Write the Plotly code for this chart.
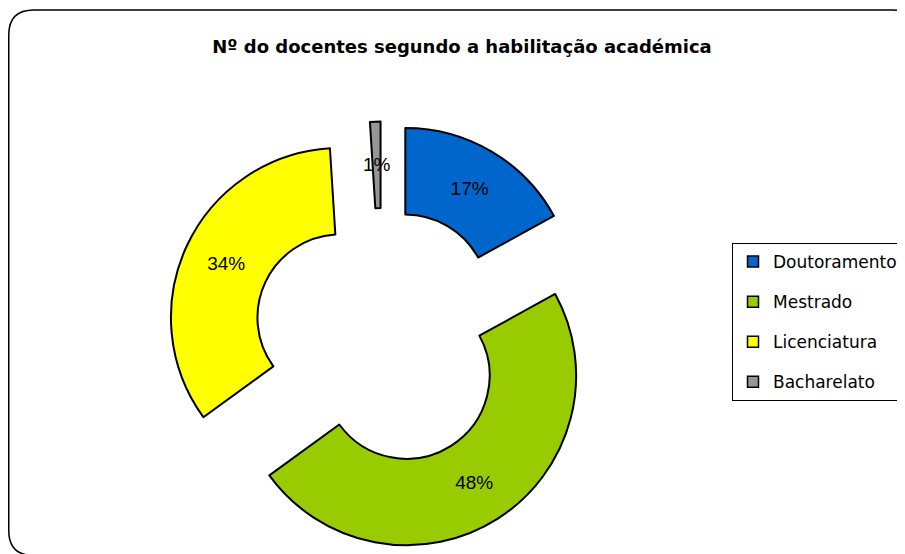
import math
import plotly.graph_objects as go

# Data
labels = ["Doutoramento", "Mestrado", "Licenciatura", "Bacharelato"]
values = [17, 48, 34, 1]
colors = ["#0066CC", "#99CC00", "#FFFF00", "#969696"]
title_text = "Nº do docentes segundo a habilitação académica"

# The page body has an 8px margin; figure covers page area (8,8)-(905,554)
OFF = 8
W, H = 905 - OFF, 554 - OFF


def px(x):
    return (x - OFF) / W


def py(y):
    return 1 - (y - OFF) / H


HOLE = 0.49
PULL = 0.27
cx_page, cy_page = 382, 337
half = 215.4
dom_x = [px(cx_page - half), px(cx_page + half)]
dom_y = [py(cy_page + half), py(cy_page - half)]

# Labels that fit inside the slices are drawn by the pie; the very thin slice
# gets its label placed at the mid-radius of its (pulled) ring segment.
total = sum(values)
thin = [v / total < 0.05 for v in values]
textpos = ["none" if t else "inside" for t in thin]

fig = go.Figure()

fig.add_trace(go.Pie(
    labels=labels,
    values=values,
    sort=False,
    direction="clockwise",
    rotation=0,
    hole=HOLE,
    pull=[PULL] * len(values),
    marker=dict(colors=colors, line=dict(color="#000000", width=2)),
    texttemplate="%{percent:.0%}",
    textposition=textpos,
    insidetextorientation="horizontal",
    textfont=dict(family="Liberation Sans", size=19, color="#000000"),
    showlegend=False,
    hoverinfo="label+percent",
    domain=dict(x=dom_x, y=dom_y),
))

# Annotation for thin slice(s), position computed from the values
r_px = min((dom_x[1] - dom_x[0]) * W, (dom_y[1] - dom_y[0]) * H) / 2 / (1 + PULL)
cx_f = (dom_x[0] + dom_x[1]) / 2 * W
cy_f = (1 - (dom_y[0] + dom_y[1]) / 2) * H
annotations = []
cum = 0
for v, t in zip(values, thin):
    mid = (cum + v / 2) / total * 2 * math.pi
    cum += v
    if t:
        rad = PULL * r_px + r_px * (1 + HOLE) / 2
        xf = cx_f + rad * math.sin(mid)
        yf = cy_f - rad * math.cos(mid)
        annotations.append(dict(
            x=xf / W, y=1 - yf / H, xref="paper", yref="paper",
            text=f"{round(v / total * 100)}%", showarrow=False,
            font=dict(family="Liberation Sans", size=19, color="#000000"),
            xanchor="center", yanchor="middle"))

# Legend entries (one group per category so spacing matches the reference)
for lab, col in zip(labels, colors):
    fig.add_trace(go.Scatter(
        x=[None], y=[None], mode="markers", name=lab, legendgroup=lab,
        marker=dict(symbol="square", size=11, color=col,
                    line=dict(color="#000000", width=1.5)),
        showlegend=True, hoverinfo="skip",
    ))

# Rounded chart-area border
x0, x1 = 0.75 / W, px(917)
yt, yb = py(10), py(555.5)
rx, ry = 25 / W, 25 / H
path = (f"M {x0+rx},{yt} L {x1-rx},{yt} Q {x1},{yt} {x1},{yt-ry} "
        f"L {x1},{yb+ry} Q {x1},{yb} {x1-rx},{yb} "
        f"L {x0+rx},{yb} Q {x0},{yb} {x0},{yb+ry} "
        f"L {x0},{yt-ry} Q {x0},{yt} {x0+rx},{yt} Z")

fig.update_layout(
    width=W, height=H,
    margin=dict(l=0, r=0, t=0, b=0),
    paper_bgcolor="#FFFFFF",
    plot_bgcolor="#FFFFFF",
    xaxis=dict(visible=False),
    yaxis=dict(visible=False),
    title=dict(text=title_text, x=px(462), xanchor="center", xref="paper",
               y=py(47), yanchor="middle", yref="paper",
               font=dict(family="DejaVu Sans", size=18, color="#000000", weight="bold")),
    legend=dict(x=px(732), xanchor="left", y=py(243), yanchor="top",
                bordercolor="#000000", borderwidth=1, bgcolor="#FFFFFF",
                font=dict(family="DejaVu Sans", size=17, color="#000000"),
                tracegroupgap=15, itemwidth=30, traceorder="grouped"),
    annotations=annotations,
    shapes=[dict(type="path", path=path, xref="paper", yref="paper",
                 line=dict(color="#000000", width=1.5), layer="above")],
    showlegend=True,
)

fig.write_html("out.html")
